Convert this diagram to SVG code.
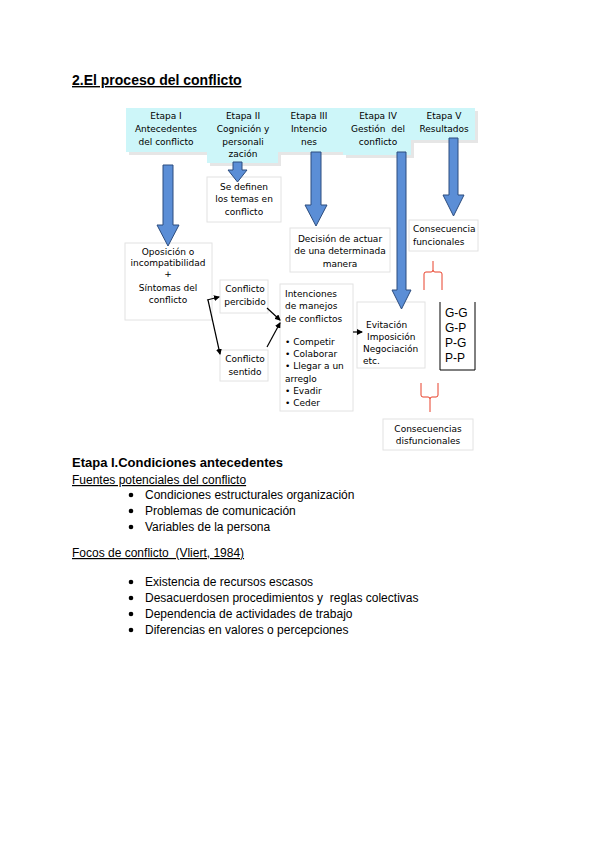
<svg xmlns="http://www.w3.org/2000/svg" width="600" height="848" viewBox="0 0 600 848">
<defs>
<style>
.t{font-family:"DejaVu Sans",sans-serif;font-size:9px;fill:#000;}
.c{text-anchor:middle;}
.hd{fill:#cdf6f9;}
.sh{fill:#e6e6e6;}
.bx{fill:#fff;stroke:#e2e2e2;stroke-width:1;}
.ar{fill:#5b8ed6;stroke:#2d4d7e;stroke-width:1;}
.ln{stroke:#000;stroke-width:1.2;fill:none;}
.br{stroke:#e8402a;stroke-width:1;fill:none;}
.a{font-family:"Liberation Sans",Arial,sans-serif;fill:#000;}
</style>
<marker id="ah" markerWidth="6" markerHeight="6" refX="5" refY="3" orient="auto" markerUnits="userSpaceOnUse">
<path d="M0,0 L6,3 L0,6 z" fill="#000"/>
</marker>
</defs>
<rect width="600" height="848" fill="#fff"/>

<text class="a" x="72" y="85" font-size="14" font-weight="bold" text-decoration="underline">2.El proceso del conflicto</text>

<g id="headers">
<rect class="sh" x="129" y="111" width="81" height="44"/>
<rect class="sh" x="210" y="111" width="71" height="55"/>
<rect class="sh" x="281" y="111" width="65" height="44"/>
<rect class="sh" x="346" y="111" width="68" height="47"/>
<rect class="sh" x="414" y="111" width="64" height="32"/>
<g id="etapa1"><rect class="hd" x="126" y="108" width="81" height="44"/>
<text class="t c" x="166" y="119">Etapa I</text><text class="t c" x="166" y="132">Antecedentes</text><text class="t c" x="166" y="145">del conflicto</text></g>
<g id="etapa2"><rect class="hd" x="207" y="108" width="71" height="55"/>
<text class="t c" x="243" y="119">Etapa II</text><text class="t c" x="243" y="132">Cognición y</text><text class="t c" x="243" y="145">personali</text><text class="t c" x="243" y="157">zación</text></g>
<g id="etapa3"><rect class="hd" x="278" y="108" width="65" height="44"/>
<text class="t c" x="309" y="119">Etapa III</text><text class="t c" x="309" y="132">Intencio</text><text class="t c" x="309" y="145">nes</text></g>
<g id="etapa4"><rect class="hd" x="343" y="108" width="68" height="47"/>
<text class="t c" x="378" y="119">Etapa IV</text><text class="t c" x="378" y="132">Gestión&#160; del</text><text class="t c" x="378" y="145">conflicto</text></g>
<g id="etapa5"><rect class="hd" x="411" y="108" width="64" height="32"/>
<text class="t c" x="444" y="119">Etapa V</text><text class="t c" x="444" y="132">Resultados</text></g>
</g>

<g id="temas"><rect class="bx" x="207" y="177" width="74" height="45"/>
<text class="t c" x="244" y="190">Se definen</text><text class="t c" x="244" y="202">los temas en</text><text class="t c" x="244" y="215">conflicto</text></g>

<g id="decision"><rect class="bx" x="290" y="228" width="100" height="44"/>
<text class="t c" x="340" y="242">Decisión de actuar</text><text class="t c" x="340" y="254">de una determinada</text><text class="t c" x="340" y="267">manera</text></g>

<g id="funcionales"><rect class="bx" x="409" y="220" width="69" height="31"/>
<text class="t" x="413" y="232">Consecuencia</text><text class="t" x="413" y="245">funcionales</text></g>

<g id="oposicion"><rect class="bx" x="125" y="243" width="87" height="77"/>
<text class="t c" x="168" y="255">Oposición o</text><text class="t c" x="168" y="266">incompatibilidad</text><text class="t c" x="168" y="277" font-size="7">+</text><text class="t c" x="168" y="291">Síntomas del</text><text class="t c" x="168" y="303">conflicto</text></g>

<g id="percibido"><rect class="bx" x="220" y="280" width="48" height="33"/>
<text class="t c" x="245" y="292">Conflicto</text><text class="t c" x="245" y="305">percibido</text></g>

<g id="sentido"><rect class="bx" x="220" y="350" width="48" height="31"/>
<text class="t c" x="245" y="362">Conflicto</text><text class="t c" x="245" y="375">sentido</text></g>

<g id="intenciones"><rect class="bx" x="280" y="284" width="73" height="127"/>
<text class="t" x="285" y="297">Intenciones</text><text class="t" x="285" y="309">de manejos</text><text class="t" x="285" y="322">de conflictos</text>
<text class="t" x="285" y="345">• Competir</text><text class="t" x="285" y="357">• Colaborar</text><text class="t" x="285" y="369">• Llegar a un</text><text class="t" x="285" y="382">arreglo</text><text class="t" x="285" y="394">• Evadir</text><text class="t" x="285" y="406">• Ceder</text></g>

<g id="evitacion"><rect class="bx" x="357" y="302" width="68" height="66"/>
<text class="t" x="366" y="328">Evitación</text><text class="t" x="367" y="340">Imposición</text><text class="t" x="363" y="352">Negociación</text><text class="t" x="363" y="364">etc.</text></g>

<g id="resultados">
<path d="M440,302 V370 H475 V302" fill="none" stroke="#000" stroke-width="1"/>
<text class="a" x="445" y="317" font-size="12">G-G</text><text class="a" x="445" y="332" font-size="12">G-P</text><text class="a" x="445" y="347" font-size="12">P-G</text><text class="a" x="445" y="362" font-size="12">P-P</text>
</g>

<g id="disfuncionales"><rect class="bx" x="383" y="419" width="90" height="31"/>
<text class="t c" x="428" y="432">Consecuencias</text><text class="t c" x="428" y="444">disfuncionales</text></g>

<g id="connectors">
<polygon class="ar" points="163,165 173,165 173,225 179,225 168,246 157,225 163,225"/>
<polygon class="ar" points="233,162 242,162 242,170 247,170 237.5,182 228,170 233,170"/>
<polygon class="ar" points="311,152 321,152 321,205 327,205 316,226 305,205 311,205"/>
<polygon class="ar" points="397,152 406,152 406,290 411,290 401.5,309 392,290 397,290"/>
<polygon class="ar" points="449,138 458,138 458,195 464,195 453.5,216 443,195 449,195"/>
<path class="ln" d="M207,300 L219,297" marker-end="url(#ah)"/>
<path class="ln" d="M208,300 L220,354" marker-end="url(#ah)"/>
<path class="ln" d="M267,308 L280,320" marker-end="url(#ah)"/>
<path class="ln" d="M267,347 L280,323" marker-end="url(#ah)"/>
<path class="ln" d="M353,332 L362,332" stroke-width="0.8" marker-end="url(#ah)"/>
<path class="br" d="M433,261 V270 Q433,272 431,272 H426 Q424,272 424,274 V290 M433,270 Q433,272 435,272 H440 Q442,272 442,274 V290"/>
<path class="br" d="M421,383 V395 Q421,397 423,397 H428 Q430,397 430,399 V412 M438,383 V395 Q438,397 436,397 H432 Q430,397 430,399"/>
</g>

<g id="texto">
<text class="a" x="72" y="467" font-size="13" font-weight="bold">Etapa I.Condiciones antecedentes</text>
<text class="a" x="72" y="484" font-size="12" text-decoration="underline" fill="#222">Fuentes potenciales del conflicto</text>
<g font-size="12" class="a">
<circle cx="131" cy="495" r="2.3"/><text x="145" y="499">Condiciones estructurales organización</text>
<circle cx="131" cy="511" r="2.3"/><text x="145" y="515">Problemas de comunicación</text>
<circle cx="131" cy="527" r="2.3"/><text x="145" y="531">Variables de la persona</text>
</g>
<text class="a" x="72" y="557" font-size="12" text-decoration="underline">Focos de conflicto&#160; (Vliert, 1984)</text>
<g font-size="12" class="a">
<circle cx="131" cy="582" r="2.3"/><text x="145" y="586">Existencia de recursos escasos</text>
<circle cx="131" cy="598" r="2.3"/><text x="145" y="602">Desacuerdosen procedimientos y&#160; reglas colectivas</text>
<circle cx="131" cy="614" r="2.3"/><text x="145" y="618">Dependencia de actividades de trabajo</text>
<circle cx="131" cy="630" r="2.3"/><text x="145" y="634">Diferencias en valores o percepciones</text>
</g>
</g>
</svg>
